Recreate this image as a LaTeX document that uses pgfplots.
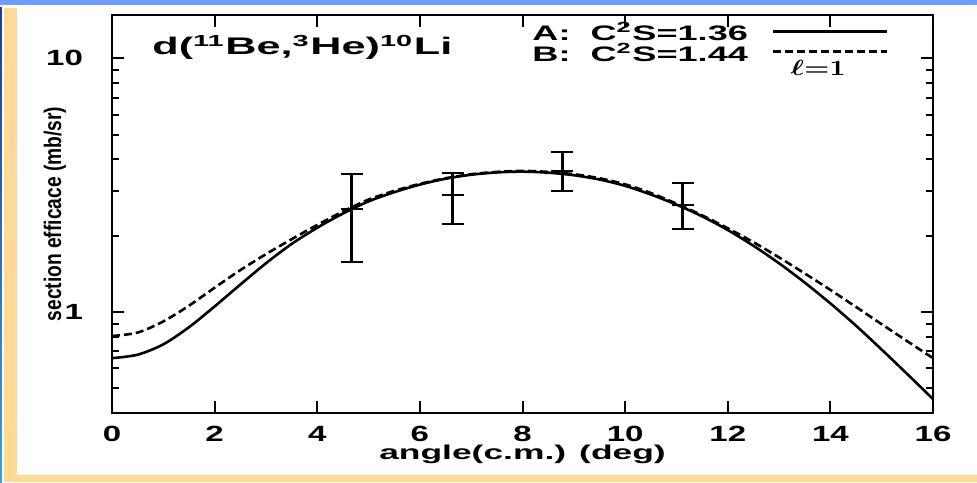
\documentclass[border=0pt]{standalone}
\usepackage{fontspec}
\setmainfont{Liberation Sans}
\usepackage{graphicx}
\usepackage{pgfplots}
\pgfplotsset{compat=1.18}
\usepackage{pgfplotstable}

\definecolor{frameblue}{RGB}{110,158,255}
\definecolor{framebeige}{RGB}{255,217,150}
\definecolor{stripdark}{RGB}{30,60,156}
\definecolor{striplight}{RGB}{59,160,216}

% widened lettering of the printed figure
\newcommand{\wt}[1]{\scalebox{1.5}[1]{#1}}
\newcommand{\wl}[1]{\scalebox{1.77}[1]{#1}}

% DWBA curve, C^2S = 1.36
\pgfplotstableread{
x y
0.0 0.658
0.5 0.679
1.0 0.746
1.5 0.871
2.0 1.052
2.5 1.282
3.0 1.556
3.5 1.854
4.0 2.148
4.5 2.443
5.0 2.729
5.5 2.965
6.0 3.177
6.5 3.350
7.0 3.475
7.5 3.548
8.0 3.573
8.5 3.540
9.0 3.459
9.5 3.327
10.0 3.141
10.5 2.904
11.0 2.649
11.5 2.382
12.0 2.104
12.5 1.824
13.0 1.556
13.5 1.306
14.0 1.081
14.5 0.883
15.0 0.711
15.5 0.569
16.0 0.454
}\curveA

% DWBA curve, C^2S = 1.44
\pgfplotstableread{
x y
0.0 0.804
0.5 0.830
1.0 0.918
1.5 1.059
2.0 1.247
2.5 1.462
3.0 1.690
3.5 1.936
4.0 2.203
4.5 2.489
5.0 2.773
5.5 3.000
6.0 3.199
6.5 3.365
7.0 3.491
7.5 3.565
8.0 3.597
8.5 3.565
9.0 3.491
9.5 3.365
10.0 3.184
10.5 2.944
11.0 2.673
11.5 2.404
12.0 2.138
12.5 1.884
13.0 1.641
13.5 1.419
14.0 1.222
14.5 1.047
15.0 0.895
15.5 0.767
16.0 0.658
}\curveB

% measured points with asymmetric errors
\pgfplotstableread{
x y ep em
4.67 2.55 0.95 0.98
6.64 2.89 0.64 0.67
8.77 3.60 0.66 0.61
11.12 2.64 0.57 0.52
}\measured

\begin{document}
\begin{tikzpicture}
\path[use as bounding box] (-56pt,-34.5pt) rectangle (432.5pt,206.5pt);
\fill[white] (-56pt,-34.5pt) rectangle (432.5pt,206.5pt);
\fill[frameblue] (-56pt,204pt) rectangle (432.5pt,206.5pt);
\shade[top color=stripdark, bottom color=striplight] (-56pt,-34.5pt) rectangle (-55pt,202.5pt);
\fill[framebeige] (-54pt,-34.5pt) rectangle (-47.25pt,202.5pt);
\fill[framebeige] (-54pt,-34.5pt) rectangle (432.5pt,-31pt);

\begin{axis}[
  at={(0pt,0pt)}, anchor=south west,
  scale only axis, width=410.5pt, height=199pt,
  xmin=0, xmax=16, ymode=log, ymin=0.4, ymax=14.8,
  xtick={0,2,4,6,8,10,12,14,16},
  xticklabels={\wt{0},\wt{2},\wt{4},\wt{6},\wt{8},\wt{10},\wt{12},\wt{14},\wt{16}},
  ytick={1,10}, yticklabels={\wt{1},\wt{10}},
  minor ytick={0.5,0.6,0.7,0.8,0.9,2,3,4,5,6,7,8,9},
  tick align=inside,
  major tick length=6pt, minor tick length=3.5pt,
  tick style={black, line width=1pt},
  axis line style={line width=1.4pt},
  xticklabel style={font=\bfseries\fontsize{11}{13}\selectfont, yshift=-3pt},
  yticklabel style={font=\bfseries\fontsize{11}{13}\selectfont, xshift=-11pt},
  xlabel={\wl{angle(c.m.) (deg)}},
  xlabel style={at={(axis description cs:0.5,-0.1045)}, anchor=center,
    font=\bfseries\fontsize{10}{12}\selectfont},
  ylabel={\scalebox{1}[1.25]{section efficace (mb/sr)}},
  ylabel style={at={(axis description cs:-0.0695,0.5)}, anchor=center,
    font=\bfseries\fontsize{9.6}{11}\selectfont},
]
\addplot[black, line width=1.3pt, smooth] table[x=x, y=y] {\curveA};
\addplot[black, line width=1.3pt, smooth, dash pattern=on 4pt off 2pt] table[x=x, y=y] {\curveB};

\addplot[black, line width=1.5pt, only marks, mark=-, mark size=5.5pt,
  mark options={line width=1pt},
  error bars/.cd, y dir=both, y explicit, error mark=|,
  error mark options={mark size=5.5pt, line width=1pt},
  error bar style={line width=1.5pt}]
  table[x=x, y=y, y error plus=ep, y error minus=em] {\measured};

% reaction label
\node[anchor=base west, inner sep=0pt, font=\bfseries\fontsize{12}{14}\selectfont]
  at (axis description cs:0.0487,0.8995)
  {\scalebox{1.8}[1]{d(\textsuperscript{11}Be,\textsuperscript{3}He)\textsuperscript{10}Li}};
% key
\node[anchor=base west, inner sep=0pt, font=\bfseries\fontsize{10.5}{10.5}\selectfont]
  at (axis description cs:0.5116,0.937) {\scalebox{1.72}[1]{A:\ \ C\textsuperscript{2}S=1.36}};
\node[anchor=base west, inner sep=0pt, font=\bfseries\fontsize{10.5}{10.5}\selectfont]
  at (axis description cs:0.5116,0.884) {\scalebox{1.72}[1]{B:\ \ C\textsuperscript{2}S=1.44}};
\draw[line width=1.3pt] (axis description cs:0.805,0.9585) -- (axis description cs:0.944,0.9585);
\draw[line width=1.3pt, dash pattern=on 4pt off 2pt] (axis description cs:0.805,0.9083) -- (axis description cs:0.944,0.9083);
\node[anchor=base west, inner sep=0pt, font=\fontsize{10.5}{12}\selectfont]
  at (axis description cs:0.826,0.849) {\scalebox{1.3}[1]{\boldmath$\ell{=}1$}};
\end{axis}
\end{tikzpicture}
\end{document}
